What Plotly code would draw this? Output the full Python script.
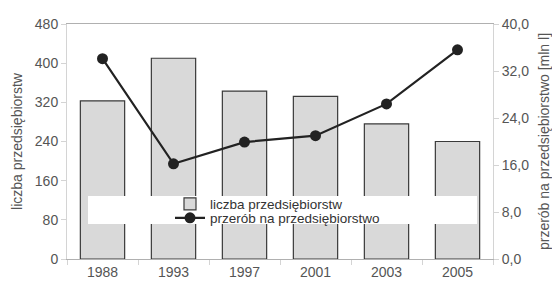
import plotly.graph_objects as go

years = ["1988", "1993", "1997", "2001", "2003", "2005"]
liczba = [323, 410, 343, 332, 276, 240]
przerob = [34.1, 16.2, 19.9, 21.0, 26.4, 35.6]
left_ticks = [0, 80, 160, 240, 320, 400, 480]
right_ticks = [0, 8, 16, 24, 32, 40]

FONT = "Liberation Sans, Arial, sans-serif"
GRID = "#d4d4d4"
OFF = 8  # default page body margin

fig = go.Figure()
fig.add_trace(go.Bar(
    x=years, y=liczba, name="liczba przedsiębiorstw",
    marker=dict(color="#d9d9d9", line=dict(color="#3a3a3a", width=1.2)),
    legend="legend",
))
fig.add_trace(go.Scatter(
    x=years, y=przerob, name="przerób na przedsiębiorstwo", yaxis="y2",
    mode="lines+markers",
    line=dict(color="#222222", width=2.2),
    marker=dict(color="#222222", size=11),
    legend="legend2",
))

def px2x(p):
    return (p - 67) / 426

def px2y(p):
    return (259 - p) / 235

fig.add_shape(type="rect", xref="paper", yref="paper",
              x0=px2x(88), x1=px2x(477), y0=px2y(224), y1=px2y(196),
              fillcolor="white", line=dict(width=0), layer="above")

fig.update_layout(
    width=560 - OFF, height=287 - OFF,
    margin=dict(l=67 - OFF, r=67, t=24 - OFF, b=28, autoexpand=False),
    paper_bgcolor="white", plot_bgcolor="white",
    separators=", ",
    font=dict(family=FONT, size=14, color="#555555"),
    bargap=0.376,
    showlegend=True,
    legend=dict(x=px2x(170), y=px2y(204), xanchor="left", yanchor="middle",
                bgcolor="rgba(0,0,0,0)", font=dict(size=13.5, color="#333333"),
                itemwidth=30),
    legend2=dict(x=px2x(170), y=px2y(218), xanchor="left", yanchor="middle",
                 bgcolor="rgba(0,0,0,0)", font=dict(size=13.5, color="#333333"),
                 itemwidth=30),
    xaxis=dict(
        type="category", showline=True, linecolor="#b0b0b0", mirror=True,
        ticks="outside", tickson="boundaries", ticklen=5, tickcolor=GRID,
        showgrid=False, tickfont=dict(size=14, color="#555555"), automargin=False,
    ),
    yaxis=dict(
        range=[0, 480], tickvals=left_ticks, tickformat="d",
        showline=True, linecolor=GRID, ticks="outside", ticklen=5,
        tickcolor=GRID, showgrid=False, zeroline=False, automargin=False,
        tickfont=dict(size=14, color="#555555"),
        title=dict(text="liczba przedsiębiorstw", font=dict(size=14, color="#555555"), standoff=8),
    ),
    yaxis2=dict(
        range=[0, 40], tickvals=right_ticks, tickformat=".1f",
        overlaying="y", side="right", automargin=False,
        showline=True, linecolor=GRID, ticks="outside", ticklen=5,
        tickcolor=GRID, showgrid=False, zeroline=False,
        tickfont=dict(size=14, color="#555555"),
        title=dict(text="przerób na przedsiębiorstwo [mln l]", font=dict(size=14, color="#555555"), standoff=10),
    ),
)

fig.write_html("out.html")
